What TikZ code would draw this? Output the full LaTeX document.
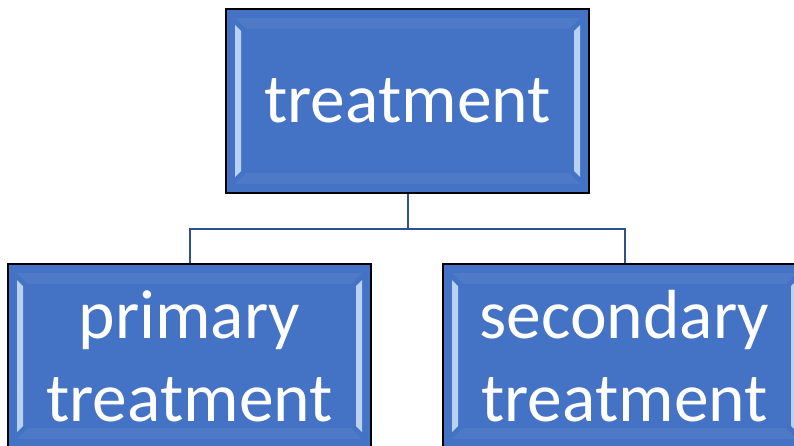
\documentclass[tikz,border=0pt]{standalone}
\usepackage{fontspec}
\setmainfont{Carlito}
\usetikzlibrary{calc,positioning}
\definecolor{boxblue}{HTML}{4472C4}
\definecolor{bevellight}{HTML}{CFE3FA}
\definecolor{linkblue}{HTML}{2F528F}
\tikzset{
  box/.style={draw=black,line width=2pt,fill=boxblue,text=white,align=center,
    minimum width=363pt,minimum height=184pt,inner sep=0pt,
    font=\fontsize{69.5}{83}\selectfont,
    path picture={
      % left and right bevel strips
      \fill[bevellight,opacity=0.85]
        ($(path picture bounding box.north west)+(9pt,-16pt)$) --
        ($(path picture bounding box.south west)+(9pt,16pt)$) --
        ($(path picture bounding box.south west)+(15pt,22pt)$) --
        ($(path picture bounding box.north west)+(15pt,-22pt)$) -- cycle;
      \fill[bevellight,opacity=0.85]
        ($(path picture bounding box.north east)+(-9pt,-16pt)$) --
        ($(path picture bounding box.south east)+(-9pt,16pt)$) --
        ($(path picture bounding box.south east)+(-15pt,22pt)$) --
        ($(path picture bounding box.north east)+(-15pt,-22pt)$) -- cycle;
      % faint top and bottom bevel
      \fill[white,opacity=0.06]
        ($(path picture bounding box.north west)+(9pt,-9pt)$) --
        ($(path picture bounding box.north east)+(-9pt,-9pt)$) --
        ($(path picture bounding box.north east)+(-20pt,-20pt)$) --
        ($(path picture bounding box.north west)+(20pt,-20pt)$) -- cycle;
      \fill[white,opacity=0.05]
        ($(path picture bounding box.south west)+(9pt,9pt)$) --
        ($(path picture bounding box.south east)+(-9pt,9pt)$) --
        ($(path picture bounding box.south east)+(-20pt,20pt)$) --
        ($(path picture bounding box.south west)+(20pt,20pt)$) -- cycle;
    }},
  link/.style={draw=linkblue,line width=2pt}
}
\begin{document}
\begin{tikzpicture}[x=1pt,y=1pt]
      % page frame
      \useasboundingbox (0,0) rectangle (794,-445);
      \clip (0,0) rectangle (794,-445);
      % top box
      \node[box] (treat) at (407.5,-101) {\raisebox{-4pt}{treatment}};
      % the two lower boxes
      \node[box] (primary) at (189.5,-356) {primary\\treatment};
      \node[box] (secondary) at (624.5,-356) {secondary\\treatment};
      % bus point under the top box
      \coordinate (bus) at ($(treat.south)+(0,-35)$);
      % connectors
      \draw[link] (treat.south) -- (bus);
      \draw[link] (primary.north) |- (bus) -| (secondary.north);
\end{tikzpicture}
\end{document}
